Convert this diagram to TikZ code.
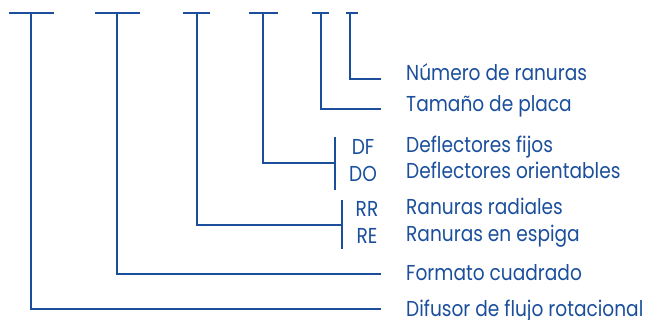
\documentclass[tikz,border=0pt]{standalone}
\usepackage{fontspec}
\setmainfont{Poppins}
\newfontfamily\descfont{Poppins}[FakeStretch=0.86]
\definecolor{lineblue}{HTML}{1B4F9C}
\begin{document}
\begin{tikzpicture}[x=1pt,y=-1pt,
  conn/.style={draw=lineblue,line width=1.4pt},
  desc/.style={text=lineblue,font=\descfont\fontsize{21.6}{24}\selectfont,inner sep=0pt,anchor=base west},
  code/.style={text=lineblue,font=\descfont\fontsize{21.6}{24}\selectfont,inner sep=0pt,anchor=base}]
\useasboundingbox (0,0) rectangle (646,320);
% top bars
\coordinate (b1l) at (9,13);   \coordinate (b1r) at (54,13);  \coordinate (s1) at (31,13);
\coordinate (b2l) at (95,13);  \coordinate (b2r) at (140,13); \coordinate (s2) at (117,13);
\coordinate (b3l) at (183,13); \coordinate (b3r) at (210,13); \coordinate (s3) at (197,13);
\coordinate (b4l) at (249,13); \coordinate (b4r) at (278,13); \coordinate (s4) at (263,13);
\coordinate (b5l) at (312,13); \coordinate (b5r) at (329,13); \coordinate (s5) at (321,13);
\coordinate (b6l) at (346,13); \coordinate (b6r) at (358,13); \coordinate (s6) at (350,13);
\foreach \i in {1,...,6} {\draw[conn] (b\i l) -- (b\i r);}
% texts
\node[desc] (t6) at (406,81) {Número de ranuras};
\node[desc] (t5) at (406,112) {Tamaño de placa};
\node[desc] (t4a) at (406,153) {Deflectores fijos};
\node[desc] (t4b) at (406,179) {Deflectores orientables};
\node[desc] (t3a) at (406,215) {Ranuras radiales};
\node[desc] (t3b) at (406,242) {Ranuras en espiga};
\node[desc] (t2) at (406,281) {Formato cuadrado};
\node[desc] (t1) at (406,317) {Difusor de flujo rotacional};
\node[code] (cDF) at (363,155) {DF};
\node[code] (cDO) at (363,182) {DO};
\node[code] (cRR) at (367,217) {RR};
\node[code] (cRE) at (367,244) {RE};
% end points
\coordinate (e6) at (381,79);
\coordinate (e5) at (381,109);
\coordinate (e2) at (381,274);
\coordinate (e1) at (381,309);
\coordinate (k4t) at (335,137); \coordinate (k4b) at (335,190); \coordinate (k4) at (335,163);
\coordinate (k3t) at (342,200); \coordinate (k3b) at (342,249); \coordinate (k3) at (342,225);
\draw[conn] (s6) |- (e6);
\draw[conn] (s5) |- (e5);
\draw[conn] (s4) |- (k4);
\draw[conn] (k4t) -- (k4b);
\draw[conn] (s3) |- (k3);
\draw[conn] (k3t) -- (k3b);
\draw[conn] (s2) |- (e2);
\draw[conn] (s1) |- (e1);
\end{tikzpicture}
\end{document}
